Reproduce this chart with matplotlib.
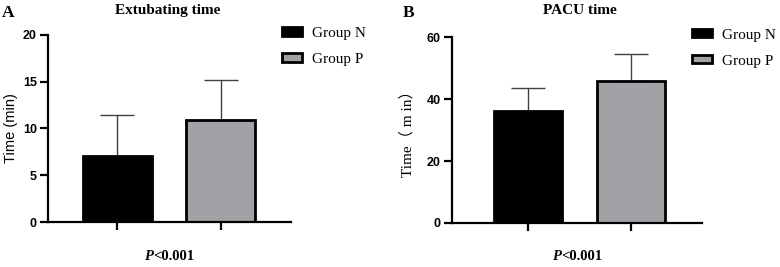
import matplotlib
matplotlib.use("Agg")
import matplotlib.pyplot as plt

groups = ["Group N", "Group P"]
extub_mean = [7.1, 10.9]
extub_err = [4.3, 4.3]
pacu_mean = [36.0, 45.8]
pacu_err = [7.6, 8.6]
extub_ticks = [0, 5, 10, 15, 20]
pacu_ticks = [0, 20, 40, 60]
colors = ["#000000", "#A2A2A6"]

SERIF = ["Liberation Serif", "Noto Sans CJK SC"]
SANS = ["Liberation Sans", "Noto Sans CJK SC"]

fig = plt.figure(figsize=(7.8, 2.67), dpi=100)
renderer = fig.canvas.get_renderer()


def ptext(xc, y):
    t1 = fig.text(0, y, "P", family=SERIF, fontweight="bold", style="italic", fontsize=10.5,
                  ha="left", va="center")
    t2 = fig.text(0, y, "<0.001", family=SERIF, fontweight="bold", fontsize=10.5,
                  ha="left", va="center")
    w1 = t1.get_window_extent(renderer).width / fig.bbox.width
    w2 = t2.get_window_extent(renderer).width / fig.bbox.width
    x0 = xc - (w1 + w2) / 2
    t1.set_x(x0)
    t2.set_x(x0 + w1)


def panel(rect, means, errs, ylim, yticks, xlim, width, title, title_x, letter, letter_x,
          ylabel, ylabel_family, ylabel_size, ylabel_x, leg_anchor):
    ax = fig.add_axes(rect)
    xs = [0, 1]
    for x, m, e, c, g in zip(xs, means, errs, colors, groups):
        ax.bar(x, m, width=width, color=c, edgecolor="black", linewidth=2.0, label=g, zorder=2)
        ax.errorbar(x, m, yerr=[[0], [e]], fmt="none", ecolor="#404040", elinewidth=1.0,
                    capsize=12.5, capthick=1.0, zorder=1)
    ax.set_ylim(*ylim)
    ax.set_xlim(*xlim)
    ax.set_yticks(yticks, labels=[str(t) for t in yticks], family=SANS, fontweight="bold", fontsize=9)
    ax.set_xticks(xs, labels=[])
    for s in ["top", "right"]:
        ax.spines[s].set_visible(False)
    for s in ["left", "bottom"]:
        ax.spines[s].set_linewidth(1.6)
    ax.tick_params(axis="both", width=1.6, length=6, direction="out")
    ax.tick_params(axis="y", pad=2)
    ax.set_ylabel(ylabel, family=ylabel_family, fontsize=ylabel_size)
    ax.yaxis.set_label_coords(ylabel_x, 0.5)
    fig.text(title_x, 0.9625, title, family=SERIF, fontweight="bold", fontsize=11, ha="center", va="center")
    fig.text(letter_x, 0.95, letter, family=SERIF, fontweight="bold", fontsize=12.5, va="center", ha="left")
    ptext(rect[0] + rect[2] / 2, 0.0375)
    ax.legend(loc="upper left", bbox_to_anchor=leg_anchor, bbox_transform=fig.transFigure,
              frameon=False, prop={"family": SERIF, "size": 11}, handlelength=1.3, handleheight=0.46,
              handletextpad=0.65, labelspacing=0.85, borderpad=0, borderaxespad=0)
    return ax


panel([0.0615, 0.1685, 0.3115, 0.7005], extub_mean, extub_err, (0, 20), extub_ticks,
      (-0.67, 1.68), 0.667, "Extubating time", 168 / 780, "A", 0.002,
      "Time (min)", SANS, 10.5, -0.125, (282 / 780, 0.899))
panel([0.5795, 0.165, 0.3205, 0.696], pacu_mean, pacu_err, (0, 60), pacu_ticks,
      (-0.73, 1.68), 0.655, "PACU time", 580 / 780, "B", 403 / 780,
      "Time（ m in）", SERIF, 11, -0.148, (692 / 780, 0.8925))

fig.savefig("out.png", dpi=100)
